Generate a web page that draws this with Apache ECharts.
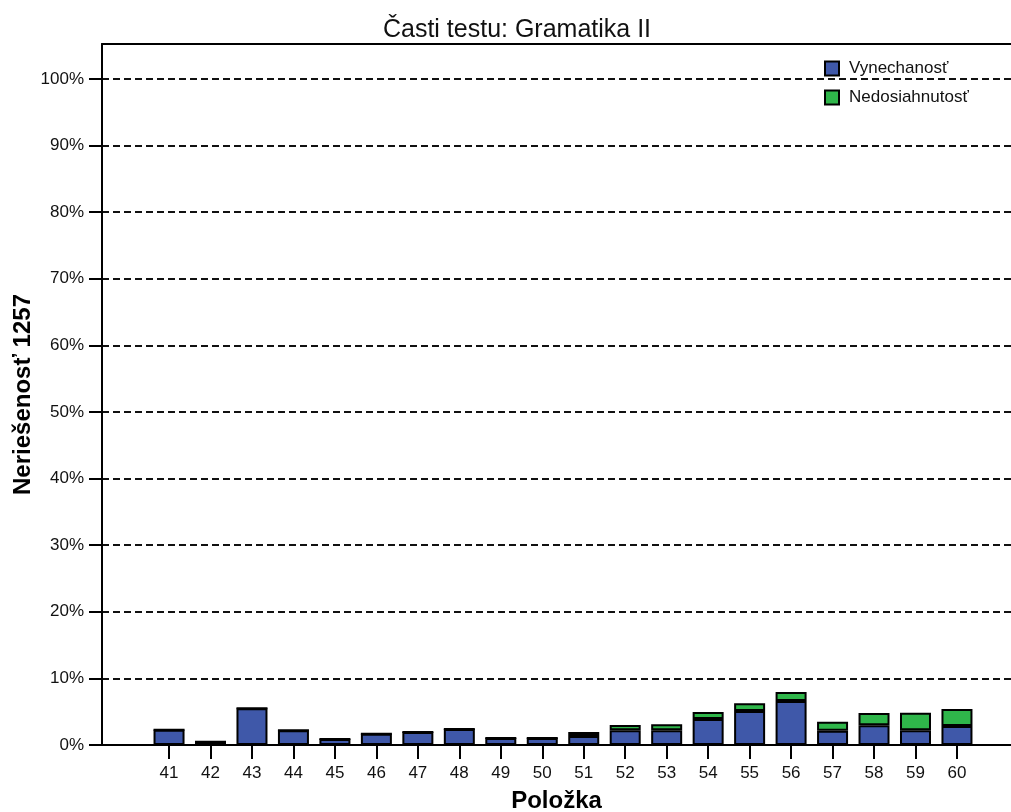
<!DOCTYPE html>
<html><head><meta charset="utf-8">
<script src="https://cdn.jsdelivr.net/npm/echarts@6/dist/echarts.min.js"></script>
<style>html,body{margin:0;padding:0;background:#fff}#c{width:1011px;height:812px}</style>
</head><body><div id="c"></div>
<script>
const items = ['41','42','43','44','45','46','47','48','49','50','51','52','53','54','55','56','57','58','59','60'];
const vynechanost = [2.3,0.5,5.5,2.2,0.9,1.7,1.95,2.4,1.05,1.05,1.35,2.2,2.2,3.9,5.1,6.6,2.15,2.95,2.2,2.85];
const nedosiahnutost = [0,0,0,0,0,0,0,0,0,0,0.6,0.8,0.9,1.05,1.15,1.35,1.35,1.85,2.65,2.55];
const yTicks = [0,10,20,30,40,50,60,70,80,90,100];
const titleText = 'Časti testu: Gramatika II';
const font = 'Liberation Sans, Arial, sans-serif';
const yMax = 105.25;

const chart = echarts.init(document.getElementById('c'));
chart.setOption({
  animation: false,
  backgroundColor: '#fff',
  title: { text: titleText, left: 512, textAlign: 'center', top: 13,
    textStyle: { fontFamily: font, fontSize: 25, fontWeight: 'normal', color: '#111' } },
  legend: { orient: 'vertical', left: 819, top: 55, itemWidth: 14, itemHeight: 14, itemGap: 12,
    icon: 'rect',
    textStyle: { fontFamily: font, fontSize: 17, color: '#111', padding: [0, 0, 0, 5] },
    itemStyle: { borderColor: '#000', borderWidth: 2 } },
  grid: [
    { left: 102, right: 0, top: 44, bottom: 67, outerBoundsMode: 'none', containLabel: false },
    { left: 148.3, width: 829.4, top: 44, bottom: 67, outerBoundsMode: 'none', containLabel: false }
  ],
  xAxis: [{
    gridIndex: 0, type: 'value', min: 0, max: 1,
    name: 'Položka', nameLocation: 'middle', nameGap: 44,
    nameTextStyle: { fontFamily: font, fontSize: 24, fontWeight: 'bold', color: '#000' },
    axisLine: { show: true, lineStyle: { color: '#000', width: 2 } },
    axisTick: { show: false }, axisLabel: { show: false }, splitLine: { show: false }
  }, {
    gridIndex: 0, type: 'value', position: 'top', min: 0, max: 1,
    axisLine: { show: true, lineStyle: { color: '#000', width: 2 } },
    axisTick: { show: false }, axisLabel: { show: false }, splitLine: { show: false }
  }, {
    gridIndex: 1, type: 'category', data: items, position: 'bottom',
    axisLine: { show: false },
    axisTick: { show: true, alignWithLabel: true, length: 14, lineStyle: { color: '#000', width: 2 } },
    axisLabel: { fontFamily: font, fontSize: 17, color: '#111', margin: 20 },
    splitLine: { show: false }
  }],
  yAxis: [{
    gridIndex: 0, type: 'value', min: 0, max: yMax,
    name: 'Neriešenosť 1257', nameLocation: 'middle', nameGap: 67, nameRotate: 90,
    nameMoveOverlap: false,
    nameTextStyle: { fontFamily: font, fontSize: 24, fontWeight: 'bold', color: '#000' },
    axisLine: { show: true, lineStyle: { color: '#000', width: 2 } },
    axisTick: { show: true, length: 13, lineStyle: { color: '#000', width: 2 }, customValues: yTicks },
    axisLabel: { fontFamily: font, fontSize: 17, color: '#111', margin: 18, customValues: yTicks,
      formatter: v => v + '%' },
    splitLine: { show: true, lineStyle: { color: '#111', width: 1.8, type: [7, 4] } }
  }, {
    gridIndex: 1, type: 'value', min: 0, max: yMax, show: false
  }],
  series: [{
    name: 'Vynechanosť', type: 'bar', stack: 's', barWidth: 31,
    xAxisIndex: 2, yAxisIndex: 1,
    data: vynechanost,
    itemStyle: { color: '#3f58a9', borderColor: '#000', borderWidth: 2 }
  }, {
    name: 'Nedosiahnutosť', type: 'bar', stack: 's', barWidth: 31,
    xAxisIndex: 2, yAxisIndex: 1,
    data: nedosiahnutost,
    itemStyle: { color: '#2fb64a', borderColor: '#000', borderWidth: 2 }
  }]
});
</script></body></html>
